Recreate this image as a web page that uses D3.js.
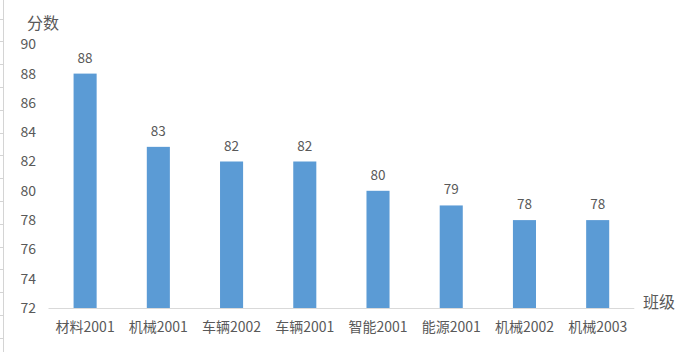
<!DOCTYPE html>
<html><head><meta charset="utf-8">
<script src="https://cdn.jsdelivr.net/npm/d3@7"></script>
<style>
html,body{margin:0;padding:0;background:#fff;}
svg{display:block;}
text{font-family:"Noto Sans CJK SC","Noto Sans",sans-serif;fill:#595959;}
</style></head>
<body>
<svg id="c" width="682" height="352"></svg>
<script>
const categories = ["材料2001","机械2001","车辆2002","车辆2001","智能2001","能源2001","机械2002","机械2003"];
const values = [88,83,82,82,80,79,78,78];
const yTicks = [72,74,76,78,80,82,84,86,88,90];
const yTitle = "分数";
const xTitle = "班级";

const svg = d3.select("#c");
const W = 682, H = 352;

// spreadsheet gridline remnants on left edge
const gl = svg.append("g");
gl.append("line").attr("x1",3.5).attr("x2",3.5).attr("y1",0).attr("y2",H)
  .attr("stroke","#d4d4d4").attr("stroke-width",1);
const rowScale = d3.scaleLinear().domain([0,1]).range([18.5,41.3]);
d3.range(0,15).forEach(i=>{
  const y = Math.round(rowScale(i))+0.5;
  if (y < H) gl.append("line").attr("x1",0).attr("x2",3.5).attr("y1",y).attr("y2",y)
    .attr("stroke","#d4d4d4").attr("stroke-width",1);
});

const x = d3.scaleBand().domain(categories).range([48.5,634.3]).padding(0);
const y = d3.scaleLinear().domain([72,90]).range([308,44.3]);
const barW = x.bandwidth()*0.315;

// bars
svg.append("g").selectAll("rect").data(values).join("rect")
  .attr("x",(d,i)=>x(categories[i])+x.bandwidth()/2-barW/2)
  .attr("width",barW)
  .attr("y",d=>y(d))
  .attr("height",d=>y(72)-y(d))
  .attr("fill","#5B9BD5");

// x axis
const xAxis = svg.append("g").attr("transform","translate(0,308)")
  .call(d3.axisBottom(x).tickSize(0).tickPadding(0));
xAxis.select(".domain").attr("stroke","#d9d9d9").attr("d","M48.5,0.5H634.3");
xAxis.selectAll(".tick text").attr("font-size",14).attr("dy",null).attr("y",24)
  .style("font-family",'"Noto Sans CJK SC",sans-serif').attr("fill","#595959");

// y axis
const yAxis = svg.append("g").attr("transform","translate(36,0)")
  .call(d3.axisLeft(y).tickValues(yTicks).tickSize(0).tickPadding(0));
yAxis.select(".domain").remove();
yAxis.selectAll(".tick text").attr("font-size",14)
  .style("font-family",'"Noto Sans CJK SC",sans-serif').attr("fill","#595959");

// value labels
svg.append("g").selectAll("text").data(values).join("text")
  .attr("x",(d,i)=>x(categories[i])+x.bandwidth()/2)
  .attr("y",d=>y(d)-11)
  .attr("text-anchor","middle").attr("font-size",13.5)
  .text(d=>d);

// titles
svg.append("text").attr("x",27).attr("y",28.5).attr("font-size",16).text(yTitle);
svg.append("text").attr("x",643).attr("y",307.5).attr("font-size",16).text(xTitle);
</script>
</body></html>
